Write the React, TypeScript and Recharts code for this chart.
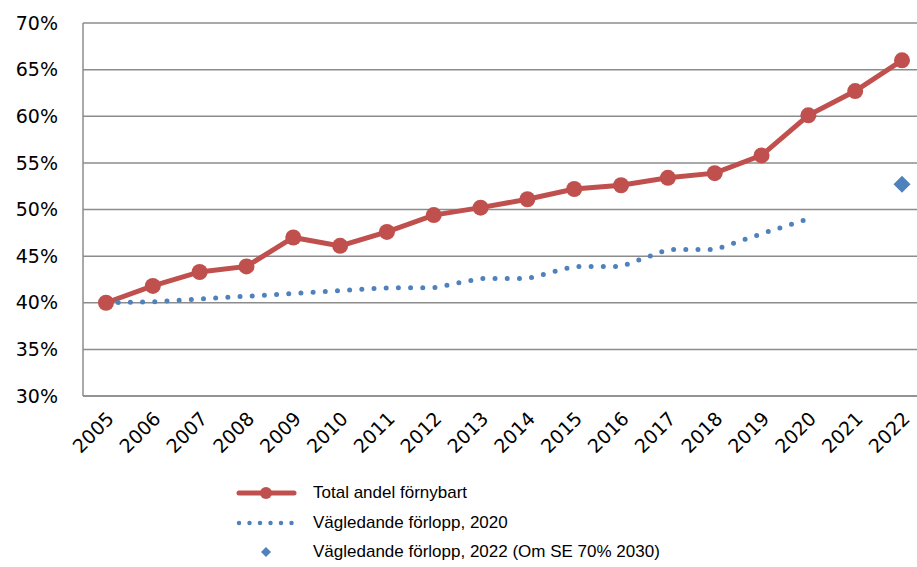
import { CartesianGrid, Line, LineChart, XAxis, YAxis } from "recharts";

const YEARS = [
  "2005", "2006", "2007", "2008", "2009", "2010", "2011", "2012", "2013",
  "2014", "2015", "2016", "2017", "2018", "2019", "2020", "2021", "2022",
];

// Total andel förnybart (%)
const TOTAL = [
  40.0, 41.8, 43.3, 43.9, 47.0, 46.1, 47.6, 49.4, 50.2,
  51.1, 52.2, 52.6, 53.4, 53.9, 55.8, 60.1, 62.7, 66.0,
];

// Vägledande förlopp, 2020 (%), ends 2020
const PATH_2020 = [
  40.0, 40.1, 40.4, 40.7, 41.0, 41.3, 41.6, 41.6, 42.6,
  42.6, 43.9, 43.9, 45.7, 45.7, 47.4, 49.0, null, null,
];

// Vägledande förlopp, 2022 (Om SE 70% 2030): single point
const PATH_2022 = [
  null, null, null, null, null, null, null, null, null,
  null, null, null, null, null, null, null, null, 52.7,
];

const Y_TICKS = [30, 35, 40, 45, 50, 55, 60, 65, 70];

const RED = "#C0504D";
const BLUE = "#4F81BD";
const GRID = "#8c8c8c";
const TICK_FONT = "'DejaVu Sans', Verdana, sans-serif";
const LEGEND_FONT = "'Liberation Sans', Arial, sans-serif";

const data = YEARS.map((year, i) => ({
  year,
  total: TOTAL[i],
  path2020: PATH_2020[i],
  path2022: PATH_2022[i],
}));

function YearTick({ x, y, payload }: any) {
  const tx = x + 9;
  const ty = y + 16;
  return (
    <text
      x={tx}
      y={ty}
      transform={`rotate(-45 ${tx} ${ty})`}
      textAnchor="end"
      fontSize={19}
      fontFamily={TICK_FONT}
      fill="#000"
    >
      {payload.value}
    </text>
  );
}

function Diamond({ cx, cy, value }: any) {
  if (value == null || cx == null) return null;
  const r = 8.5;
  return (
    <path
      d={`M${cx},${cy - r} L${cx + r},${cy} L${cx},${cy + r} L${cx - r},${cy} Z`}
      fill={BLUE}
    />
  );
}

function Legend() {
  const row = { position: "absolute" as const, left: 0, height: 30, display: "flex", alignItems: "center" };
  const text = { position: "absolute" as const, left: 313, fontSize: 17, fontFamily: LEGEND_FONT, color: "#000", whiteSpace: "nowrap" as const };
  return (
    <div style={{ position: "absolute", left: 0, top: 0, width: 917, height: 567, pointerEvents: "none" }}>
      <div style={{ ...row, top: 478, width: 917 }}>
        <svg width={917} height={30} style={{ position: "absolute", left: 0 }}>
          <line x1={239} y1={15} x2={294} y2={15} stroke={RED} strokeWidth={5} strokeLinecap="round" />
          <circle cx={266} cy={15} r={6} fill={RED} />
        </svg>
        <span style={text}>Total andel förnybart</span>
      </div>
      <div style={{ ...row, top: 508, width: 917 }}>
        <svg width={917} height={30} style={{ position: "absolute", left: 0 }}>
          <line x1={239} y1={15} x2={292} y2={15} stroke={BLUE} strokeWidth={4.5} strokeLinecap="round" strokeDasharray="0 10.5" />
        </svg>
        <span style={text}>Vägledande förlopp, 2020</span>
      </div>
      <div style={{ ...row, top: 537, width: 917 }}>
        <svg width={917} height={30} style={{ position: "absolute", left: 0 }}>
          <path d="M266,10 L271,15 L266,20 L261,15 Z" fill={BLUE} />
        </svg>
        <span style={text}>Vägledande förlopp, 2022 (Om SE 70% 2030)</span>
      </div>
    </div>
  );
}

export default function App() {
  return (
    <div style={{ position: "relative", width: 917, height: 567, overflow: "hidden", background: "#fff" }}>
      <style>{`body{margin:0}`}</style>
      <LineChart
        width={925}
        height={567}
        data={data}
        margin={{ top: 23, right: 0, bottom: 0, left: 0 }}
      >
        <CartesianGrid vertical={false} stroke={GRID} strokeWidth={1.5} />
        <XAxis
          dataKey="year"
          interval={0}
          padding={{ left: 23, right: 23 }}
          tickLine={false}
          axisLine={{ stroke: GRID, strokeWidth: 1.5 }}
          tick={<YearTick />}
          height={171}
        />
        <YAxis
          domain={[30, 70]}
          ticks={Y_TICKS}
          width={83}
          tickLine={false}
          tickMargin={19}
          axisLine={{ stroke: GRID, strokeWidth: 1.5 }}
          tickFormatter={(v: number) => `${v}%`}
          tick={{ fontSize: 19, fontFamily: TICK_FONT, fill: "#000" }}
        />
        <Line
          dataKey="total"
          stroke={RED}
          strokeWidth={5}
          dot={{ r: 8, fill: RED, stroke: RED, strokeWidth: 0 }}
          isAnimationActive={false}
        />
        <Line
          dataKey="path2020"
          stroke={BLUE}
          strokeWidth={5}
          strokeLinecap="round"
          strokeDasharray="0 12.2"
          dot={false}
          connectNulls={false}
          isAnimationActive={false}
        />
        <Line
          dataKey="path2022"
          stroke="none"
          dot={<Diamond />}
          isAnimationActive={false}
        />
      </LineChart>
      <Legend />
    </div>
  );
}
